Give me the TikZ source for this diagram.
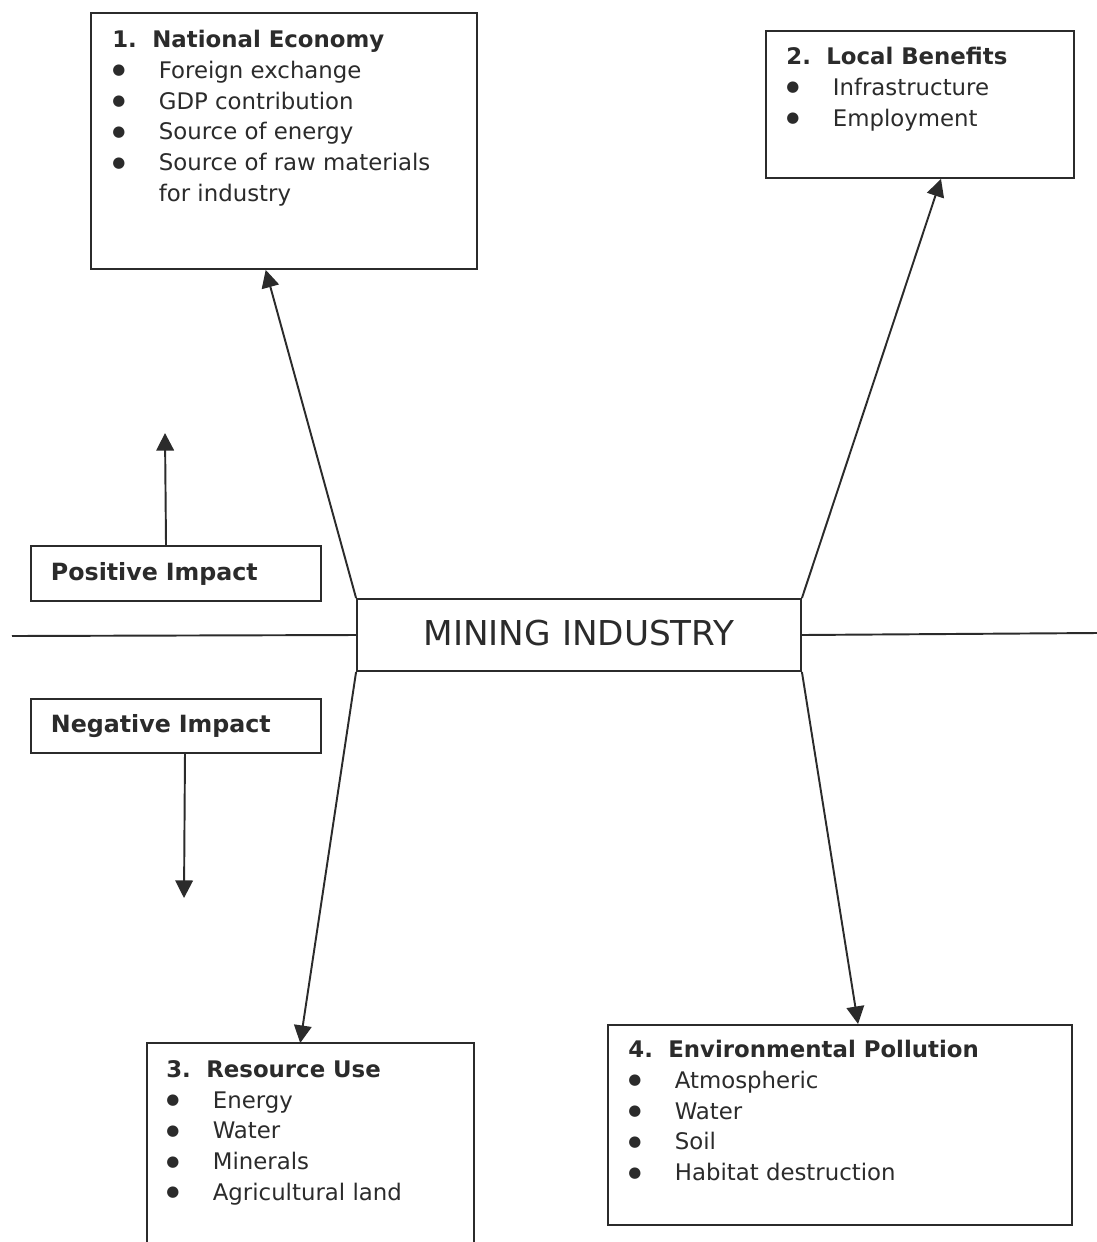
\documentclass[tikz,border=0pt]{standalone}
\usepackage{fontspec}
\setmainfont{DejaVu Sans}
\usetikzlibrary{arrows.meta,positioning,calc}
\definecolor{ink}{HTML}{2B2B2B}
\newcommand{\itm}[1]{\makebox[0.93cm][l]{\raisebox{2pt}{\fontsize{8.5}{8.5}\selectfont ●}}#1}
\newcommand{\hdr}[2]{\textbf{\makebox[0.8cm][l]{#1}#2}}

\begin{document}
\begin{tikzpicture}[x=0.02cm,y=-0.02cm,>={Triangle[length=10pt,width=10pt]},
  box/.style={draw=ink,line width=1.1pt,inner sep=0pt},
  body/.style={anchor=north west,inner sep=0pt,align=left,text=ink,font=\fontsize{13}{17.5}\selectfont},
  tag/.style={box,anchor=north west,minimum width=5.8cm,inner xsep=0.4cm,text width=5cm,align=left,text=ink,font=\fontsize{13.5}{16}\selectfont\bfseries},
  link/.style={draw=ink,line width=1.1pt,->}]

\useasboundingbox[fill=white] (0,0) rectangle (1097,1242);

\node[box,anchor=north west,minimum width=7.72cm,minimum height=5.12cm] (econ) at (90,12) {};
\node[box,anchor=north west,minimum width=6.16cm,minimum height=2.94cm] (local) at (765,30) {};
\node[anchor=north west,inner sep=0pt,minimum width=6.52cm,minimum height=3.98cm] (res) at (147,1043) {};
\node[box,anchor=north west,minimum width=9.28cm,minimum height=4cm] (poll) at (607,1024) {};
\draw[ink,line width=1.1pt] (res.south west) -- (res.north west) -- (res.north east) -- (res.south east);

\node[body] (econtxt) at ($(econ.north west)+(22,18)$) {\hdr{1.}{National Economy}\\ \itm{Foreign exchange}\\ \itm{GDP contribution}\\ \itm{Source of energy}\\ \itm{Source of raw materials}\\ \hspace{0.93cm}for industry};
\node[body] (localtxt) at ($(local.north west)+(21,17)$) {\hdr{2.}{Local Benefits}\\ \itm{Infrastructure}\\ \itm{Employment}};
\node[body] (restxt) at ($(res.north west)+(19,17)$) {\hdr{3.}{Resource Use}\\ \itm{Energy}\\ \itm{Water}\\ \itm{Minerals}\\ \itm{Agricultural land}};
\node[body] (polltxt) at ($(poll.north west)+(21,16)$) {\hdr{4.}{Environmental Pollution}\\ \itm{Atmospheric}\\ \itm{Water}\\ \itm{Soil}\\ \itm{Habitat destruction}};

\node[box,minimum width=8.88cm,minimum height=1.44cm,text=ink,font=\fontsize{19.5}{22}\selectfont] (mining) at (579,635) {\raisebox{2pt}{MINING INDUSTRY}};

\node[tag,minimum height=1.1cm] (pos) at (30,545) {Positive Impact};
\node[tag,minimum height=1.08cm] (neg) at (30,698) {Negative Impact};
\coordinate (posup) at (165,433);
\coordinate (negdown) at (184,898);
\coordinate (axl) at (12,636);
\coordinate (axr) at (1097,633);

\draw[link] ($(pos.north west)!0.466!(pos.north east)$) -- (posup);
\draw[link] ($(neg.south west)!0.531!(neg.south east)$) -- (negdown);
\draw[ink,line width=1.1pt] (axl) -- (mining.west) (mining.east) -- (axr);

\draw[link] (mining.north west) -- ($(econ.south west)!0.453!(econ.south east)$);
\draw[link] (mining.north east) -- ($(local.south west)!0.568!(local.south east)$);
\draw[link] (mining.south west) -- ($(res.north west)!0.469!(res.north east)$);
\draw[link] (mining.south east) -- ($(poll.north west)!0.539!(poll.north east)$);
\end{tikzpicture}
\end{document}
